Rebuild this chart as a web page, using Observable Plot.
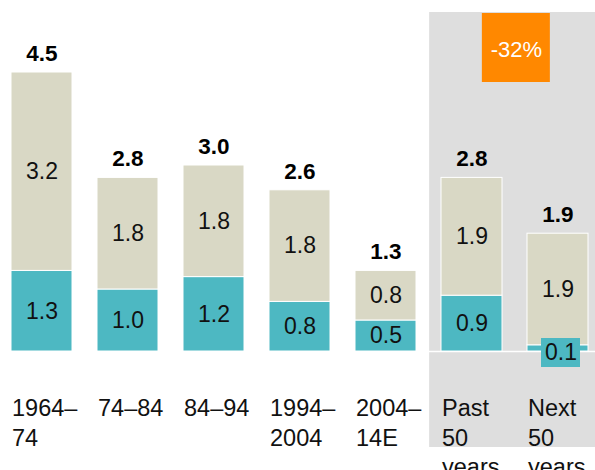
<!DOCTYPE html>
<html><head><meta charset="utf-8">
<script src="https://cdn.jsdelivr.net/npm/d3@7"></script>
<script src="https://cdn.jsdelivr.net/npm/@observablehq/plot@0.6"></script>
<style>
body{margin:0;background:#fff;}
#chart svg{display:block;}
</style></head><body><div id="chart"></div>
<script>
// ---- data ----
const categories = ["1964–74", "74–84", "84–94", "1994–2004", "2004–14E", "Past 50 years", "Next 50 years"];
const tickLabels = ["1964–\n74", "74–84", "84–94", "1994–\n2004", "2004–\n14E", "Past\n50\nyears", "Next\n50\nyears"];
const lowerValues = [1.3, 1.0, 1.2, 0.8, 0.5, 0.9, 0.1];
const upperValues = [3.2, 1.8, 1.8, 1.8, 0.8, 1.9, 1.9];
const totals = [4.5, 2.8, 3.0, 2.6, 1.3, 2.8, 1.9];
const highlighted = ["Past 50 years", "Next 50 years"];
const changeLabel = "-32%";

// ---- build tables ----
const segments = [];
categories.forEach((c, i) => {
  segments.push({cat: c, series: "lower", y1: 0, y2: lowerValues[i], value: lowerValues[i]});
  segments.push({cat: c, series: "upper", y1: lowerValues[i], y2: totals[i], value: upperValues[i]});
});
const yMax = d3.max(totals);
const pxPerUnit = (351 - 72) / yMax;
const isSmall = d => (d.y2 - d.y1) * pxPerUnit < 20;
const normalSegs = segments.filter(d => !isSmall(d));
const smallSegs = segments.filter(isSmall);
const totalRows = categories.map((c, i) => ({cat: c, total: totals[i]}));
const labelRows = categories.map((c, i) => ({cat: c, label: tickLabels[i]}));

const colors = {lower: "#4db8c2", upper: "#d9d8c5"};
const font = "'Liberation Sans', Arial, sans-serif";

const step = 86.7, bw = step * (1 - 0.285), gap = step - bw;

const chart = Plot.plot({
  width: 595,
  height: 470,
  margin: 0,
  style: {fontFamily: font, background: "white"},
  x: {domain: categories, range: [8, 591], paddingInner: 0.285, paddingOuter: 0, axis: null},
  y: {domain: [0, yMax], range: [351, 72], axis: null},
  color: {domain: ["lower", "upper"], range: [colors.lower, colors.upper]},
  marks: [
    // highlight panel
    Plot.barY(highlighted, {x: d => d, y1: 0, y2: yMax, fill: "#dedede",
      insetLeft: -gap / 2 + 0.5, insetRight: -gap / 2 - 3, insetTop: -60, insetBottom: -96}),
    Plot.ruleY([0], {stroke: "white", strokeWidth: 1.5}),
    // stacked segments
    Plot.barY(segments, {x: "cat", y1: "y1", y2: "y2", fill: "series", stroke: "white", strokeWidth: 1}),
    // change callout
    Plot.barY([highlighted[0]], {x: d => d, y1: yMax, y2: yMax, fill: "#ff8800", dx: step / 2 + 1,
      insetLeft: -3.5, insetRight: -3.5, insetTop: -59, insetBottom: -10}),
    Plot.text([highlighted[0]], {x: d => d, y: yMax, text: () => changeLabel, dx: step / 2 + 1, dy: -23,
      fill: "white", fontSize: 22}),
    // segment value labels
    Plot.text(normalSegs, {x: "cat", y: d => (d.y1 + d.y2) / 2, text: d => d.value.toFixed(1),
      fontSize: 23, fill: "#111"}),
    // small-segment labels with boxes
    Plot.barY(smallSegs, {x: "cat", y1: 0, y2: 0, fill: colors.lower, dx: 3,
      insetLeft: 11, insetRight: 11, insetTop: -13, insetBottom: -16}),
    Plot.text(smallSegs, {x: "cat", y: 0, text: d => d.value.toFixed(1), dx: 3, dy: 1.5,
      fontSize: 23, fill: "#111"}),
    // totals
    Plot.text(totalRows, {x: "cat", y: "total", text: d => d.total.toFixed(1), dy: -19,
      fontSize: 22.5, fontWeight: "bold", fill: "#000"}),
    // category labels
    Plot.text(labelRows, {x: "cat", y: 0, text: "label", textAnchor: "start", dx: -bw / 2 + 1,
      lineAnchor: "top", dy: 44, fontSize: 23.5, lineHeight: 1.25, fill: "#111"})
  ]
});
document.getElementById("chart").appendChild(chart);
</script>
</body></html>
